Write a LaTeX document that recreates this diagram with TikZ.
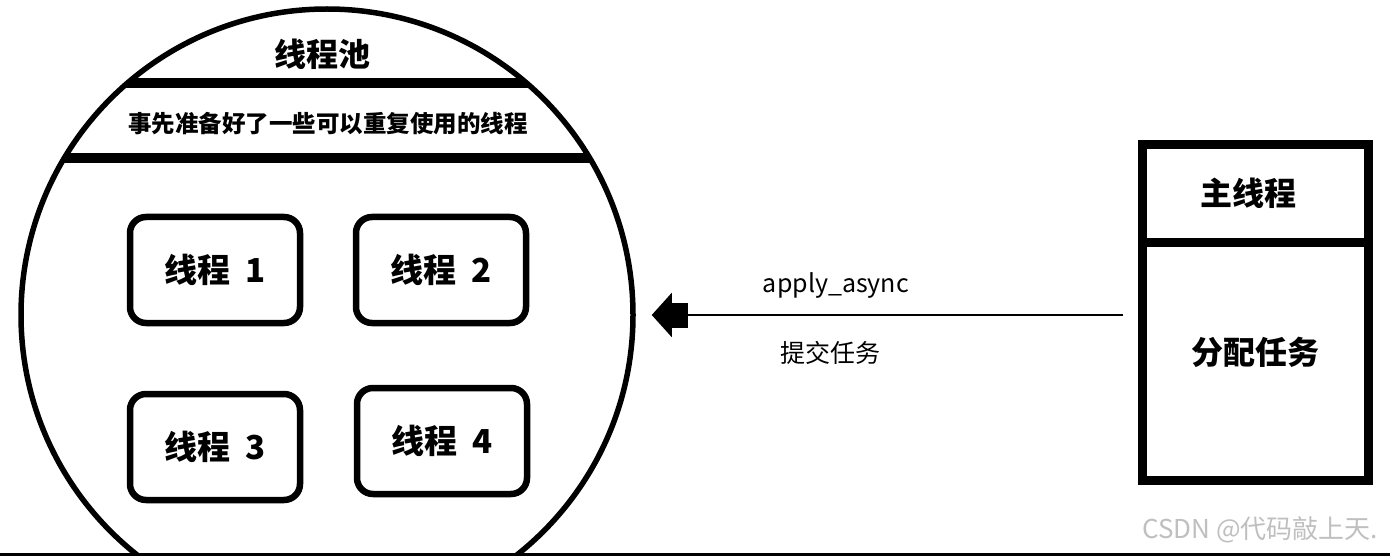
\documentclass[tikz,border=0pt]{standalone}
\usepackage{fontspec}
\setmainfont{Noto Sans CJK SC}
\usetikzlibrary{arrows.meta,positioning}

\begin{document}
\begin{tikzpicture}[x=1pt, y=-1pt,
		threadbox/.style={draw, line width=6.5pt, rounded corners=16pt, minimum width=170pt, minimum height=106pt, font=\fontsize{33}{38}\selectfont\bfseries},
		mainbox/.style={draw, line width=9pt, minimum width=226pt, outer sep=0pt, font=\fontsize{32}{38}\selectfont\bfseries},
		chord/.style={line width=9.5pt},
		submit/.style={line width=2pt, -{Rectangle[length=16pt,width=25pt,sep=0pt]Triangle[length=20pt,width=44pt]}}]
		\useasboundingbox (0,0) rectangle (1390,556);
		\clip (0,0) rectangle (1390,556);
		% thread pool
		\node[circle, draw, line width=5.5pt, minimum size=612pt] (pool) at (327,315) {};
		\begin{scope}
			\clip (pool.center) circle (306);
			\draw[chord] (0,83) -- (700,83);
			\draw[chord] (0,158) -- (700,158);
		\end{scope}
		\node[font=\fontsize{32}{38}\selectfont\bfseries] (title) at (322,54) {线程池};
		\node[font=\fontsize{23.5}{28}\selectfont\bfseries] (desc) at (328,124) {事先准备好了一些可以重复使用的线程};
		\foreach \n/\x/\y in {1/215/270, 2/441/270, 3/215/447, 4/442/441}
		\node[threadbox] (t\n) at (\x,\y) {线程\hspace{0.45em}\n};
		% main thread
		\node[mainbox, minimum height=98.5pt] (head) at (1255.5,193.75) {\hspace*{-14pt}主线程};
		\node[mainbox, minimum height=237.5pt, below=0pt of head] (task) {};
		\node[font=\fontsize{32}{38}\selectfont\bfseries] (tasklbl) at (1255,352) {分配任务};
		\draw[submit, shorten <=19.5pt, shorten >=16pt] (task.west |- pool.east) -- (pool.east)
			node[pos=0.605, above=12pt, font=\fontsize{25}{30}\selectfont] (api) {apply\_async}
			node[pos=0.615, below=22pt, font=\fontsize{25}{30}\selectfont] (sub) {提交任务};
		% watermark and bottom edge
		\node[text=black!25, font=\fontsize{26}{30}\selectfont] (mark) at (1260,530) {CSDN @代码敲上天.};
		\fill (0,553) rectangle (1390,556);
	\end{tikzpicture}
\end{document}
